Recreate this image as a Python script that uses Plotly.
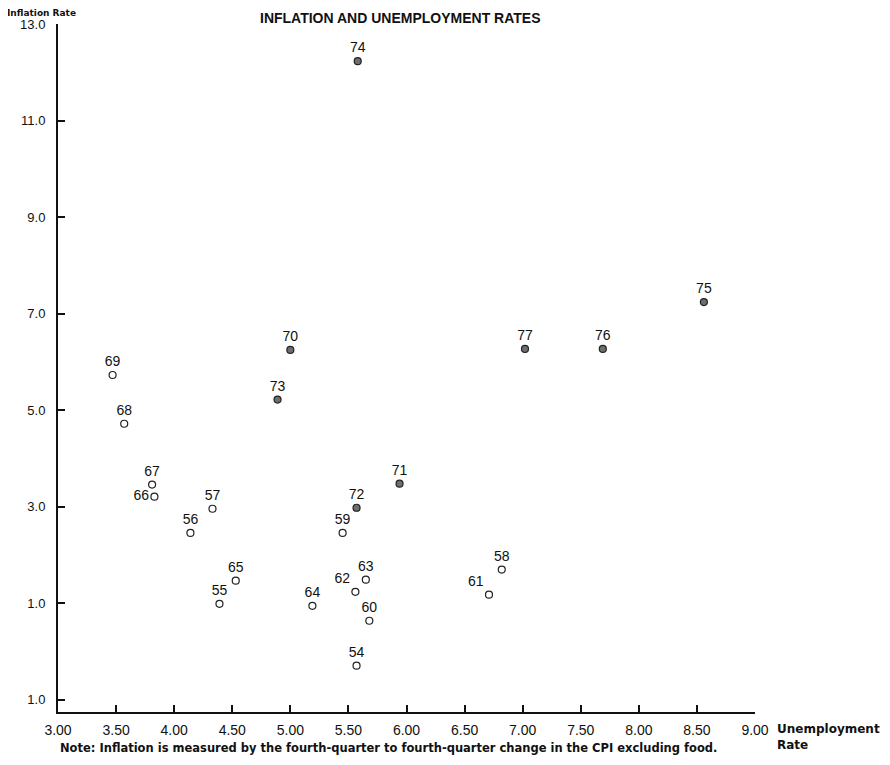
import plotly.graph_objects as go

years = ["54", "55", "56", "57", "58", "59", "60", "61", "62", "63", "64", "65",
         "66", "67", "68", "69", "70", "71", "72", "73", "74", "75", "76", "77"]
unemployment = [5.57, 4.39, 4.14, 4.33, 6.82, 5.45, 5.68, 6.71, 5.56, 5.65, 5.19, 4.53,
                3.83, 3.81, 3.57, 3.47, 5.00, 5.94, 5.57, 4.89, 5.58, 8.56, 7.69, 7.02]
inflation = [-0.29, 0.99, 2.46, 2.96, 1.70, 2.46, 0.64, 1.18, 1.24, 1.49, 0.95, 1.47,
             3.21, 3.46, 4.72, 5.73, 6.25, 3.48, 2.98, 5.22, 12.23, 7.24, 6.27, 6.27]
label_pos = {"66": "middle left", "62": "top left", "61": "top left"}

y_ticks = [-1, 1, 3, 5, 7, 9, 11, 13]
y_ticktext = ["1.0", "1.0", "3.0", "5.0", "7.0", "9.0", "11.0", "13.0"]
x_ticks = [3.0, 3.5, 4.0, 4.5, 5.0, 5.5, 6.0, 6.5, 7.0, 7.5, 8.0, 8.5, 9.0]
x_ticktext = ["%.2f" % v for v in x_ticks]

open_idx = [i for i, y in enumerate(years) if int(y) < 70]
fill_idx = [i for i, y in enumerate(years) if int(y) >= 70]

label_font = dict(family="Liberation Sans", size=14, color="#111")

def trace(idx, filled):
    return go.Scatter(
        x=[unemployment[i] for i in idx],
        y=[inflation[i] for i in idx],
        mode="markers+text",
        text=[years[i] for i in idx],
        textposition=[label_pos.get(years[i], "top center") for i in idx],
        textfont=label_font,
        marker=dict(symbol="circle", size=7,
                    color="#6e6e6e" if filled else "white",
                    line=dict(color="#222", width=1.2)),
        cliponaxis=False,
        showlegend=False,
        hoverinfo="skip",
    )

fig = go.Figure([trace(open_idx, False), trace(fill_idx, True)])

axis_common = dict(showline=True, linecolor="#111", linewidth=2, ticks="inside",
                   ticklen=7, tickwidth=2, tickcolor="#111", showgrid=False,
                   zeroline=False, mirror=False, automargin=False)

fig.update_layout(
    width=874, height=749,
    margin=dict(l=50, r=127, t=16, b=45),
    paper_bgcolor="white", plot_bgcolor="white",
    xaxis=dict(range=[3.0, 9.0], tickvals=x_ticks, ticktext=x_ticktext,
               ticklabelstandoff=4,
               tickfont=dict(family="Liberation Sans", size=14, color="#111"),
               **axis_common),
    yaxis=dict(range=[-1.25, 13.0], tickvals=y_ticks, ticktext=y_ticktext,
               ticklabelstandoff=8,
               tickfont=dict(family="Liberation Sans", size=13, color="#111"),
               **axis_common),
    annotations=[
        dict(text="<b>INFLATION AND UNEMPLOYMENT RATES</b>", xref="paper", yref="paper",
             x=0.5, xshift=-6, y=1, yshift=6, xanchor="center", yanchor="middle",
             showarrow=False,
             font=dict(family="Liberation Sans", size=14, color="#111")),
        dict(text="<b>Inflation Rate</b>", xref="paper", yref="paper",
             x=0, xshift=-53, y=1, yshift=18, xanchor="left", yanchor="top",
             showarrow=False,
             font=dict(family="DejaVu Sans", size=9, color="#111")),
        dict(text="<b>Unemployment<br>Rate</b>", xref="paper", yref="paper", align="left",
             x=1, xshift=20, y=0, yshift=-8, xanchor="left", yanchor="top", showarrow=False,
             font=dict(family="DejaVu Sans", size=12, color="#111")),
        dict(text="<b>Note: Inflation is measured by the fourth-quarter to fourth-quarter change in the CPI excluding food.</b>",
             xref="paper", yref="paper", x=0, y=0, yshift=-27, xanchor="left", yanchor="top",
             showarrow=False, font=dict(family="DejaVu Sans", size=11.5, color="#111")),
    ],
)

fig.write_html("out.html")
